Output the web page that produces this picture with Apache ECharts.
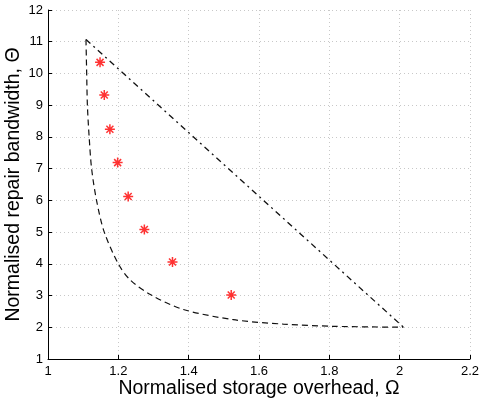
<!DOCTYPE html>
<html>
<head>
<meta charset="utf-8">
<script src="https://cdn.jsdelivr.net/npm/echarts@6/dist/echarts.min.js"></script>
<style>html,body{margin:0;padding:0;background:#fff}#c{width:485px;height:404px}</style>
</head>
<body>
<div id="c"></div>
<script>
// Red asterisk points (Omega, Theta)
var starOmega = [1.148, 1.160, 1.176, 1.198, 1.228, 1.274, 1.354, 1.521];
var starTheta = [10.35, 9.32, 8.24, 7.19, 6.12, 5.08, 4.06, 3.02];
// Dash-dot line endpoints
var dashDotOmega = [1.108, 2.011];
var dashDotTheta = [11.07, 2.0];
// Dashed curve points
var dashedOmega = [1.108, 1.110, 1.112, 1.117, 1.124, 1.138, 1.160, 1.200, 1.233, 1.291, 1.385, 1.527, 1.669, 1.812, 2.011];
var dashedTheta = [11.07, 10.0, 9.0, 8.0, 7.0, 6.0, 5.0, 4.0, 3.5, 3.03, 2.56, 2.24, 2.10, 2.03, 2.0];

function zip(a, b) { return a.map(function (v, i) { return [v, b[i]]; }); }

var font = '"Liberation Sans", Arial, Helvetica, sans-serif';
var chart = echarts.init(document.getElementById('c'));
chart.setOption({
  animation: false,
  grid: { left: 48, right: 15, top: 10, bottom: 45, containLabel: false, outerBoundsMode: 'none' },
  xAxis: {
    type: 'value', min: 1, max: 2.2, interval: 0.2,
    name: 'Normalised storage overhead, \u03A9',
    nameLocation: 'middle', nameGap: 20, nameMoveOverlap: false,
    nameTextStyle: { fontFamily: font, fontSize: 19.5, color: '#000' },
    axisLine: { show: true, onZero: false, lineStyle: { color: '#000', width: 1 } },
    axisTick: { show: true, inside: true, length: 4, lineStyle: { color: '#000' } },
    axisLabel: { fontFamily: font, fontSize: 13, color: '#000', margin: 6 },
    splitLine: { show: true, lineStyle: { color: '#c8c8c8', type: [1, 3], width: 1 } }
  },
  yAxis: {
    type: 'value', min: 1, max: 12, interval: 1,
    name: 'Normalised repair bandwidth, \u0398',
    nameLocation: 'middle', nameGap: 24, nameMoveOverlap: false,
    nameTextStyle: { fontFamily: font, fontSize: 19.5, color: '#000' },
    axisLine: { show: true, onZero: false, lineStyle: { color: '#000', width: 1 } },
    axisTick: { show: true, inside: true, length: 4, lineStyle: { color: '#000' } },
    axisLabel: { fontFamily: font, fontSize: 13, color: '#000', margin: 5 },
    splitLine: { show: true, lineStyle: { color: '#c8c8c8', type: [1, 3], width: 1 } }
  },
  series: [
    {
      type: 'line', data: zip(dashedOmega, dashedTheta), showSymbol: false, smooth: 0.3,
      lineStyle: { color: '#111', width: 1.2, type: [6, 4] }
    },
    {
      type: 'line', data: zip(dashDotOmega, dashDotTheta), showSymbol: false,
      lineStyle: { color: '#111', width: 1.3, type: [6, 4, 2, 4] }
    },
    {
      type: 'scatter', data: zip(starOmega, starTheta),
      symbol: 'path://M0,-5L0,5M-5,0L5,0M-3.5,-3.5L3.5,3.5M-3.5,3.5L3.5,-3.5',
      symbolSize: 10,
      itemStyle: { color: 'rgba(0,0,0,0)', borderColor: '#ff0000', borderWidth: 1.5 }
    }
  ]
});
</script>
</body>
</html>
